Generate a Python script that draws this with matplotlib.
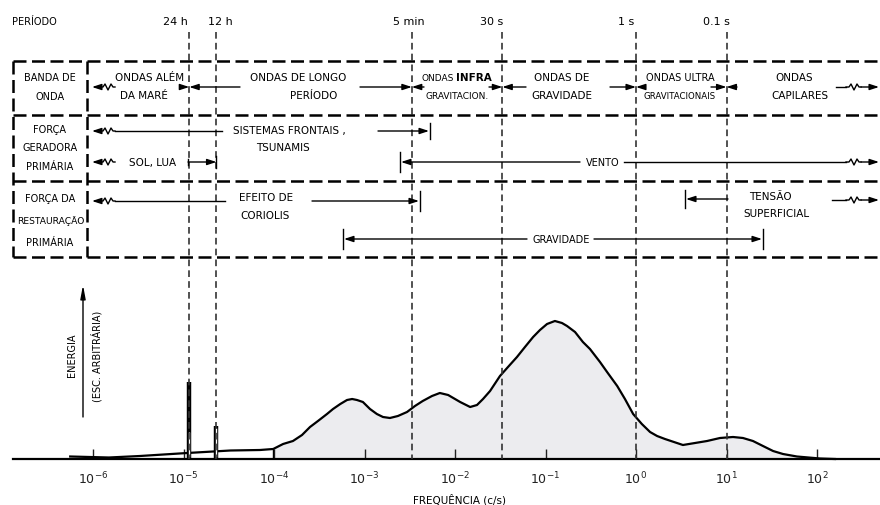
import numpy as np
import matplotlib.pyplot as plt
import matplotlib as mpl

mpl.rcParams['font.family'] = 'DejaVu Sans'

# energy spectrum (frequency in c/s, energy in arbitrary units)
freq = [5.6e-7, 1.5e-6, 3.3e-6, 1.1e-5, 3.3e-5, 7.0e-5,
        9.8e-5, 1.26e-4, 1.62e-4, 2.04e-4, 2.5e-4, 3.06e-4, 3.85e-4, 4.49e-4,
        5.4e-4, 6.41e-4, 7.3e-4, 8.26e-4, 9.6e-4, 1.15e-3, 1.37e-3, 1.6e-3,
        1.91e-3, 2.34e-3, 2.95e-3, 3.61e-3, 4.4e-3, 5.57e-3, 6.8e-3, 8.4e-3,
        1.0e-2, 1.14e-2, 1.47e-2, 1.75e-2, 2.04e-2, 2.44e-2, 3.14e-2, 3.85e-2,
        4.84e-2, 5.93e-2, 7.3e-2, 8.69e-2, 0.104, 0.127, 0.152, 0.173, 0.212,
        0.259, 0.31, 0.40, 0.479, 0.62, 0.755, 0.93, 1.16, 1.43, 1.71, 2.09,
        3.3, 4.49, 6.1, 8.47, 11.8, 15.2, 19.6, 25.3, 32.7, 42.1, 60, 108, 158]
energy = [2.5, 1.5, 3, 6, 8.5, 9,
          10, 15, 18, 24, 32, 38, 45, 50,
          55, 59, 60, 59, 57, 50, 45, 42,
          41, 43, 47, 53, 58, 63, 66, 64,
          60, 57, 52, 54, 60, 68, 83, 92,
          102, 112, 122, 129, 135, 138, 136, 133, 127,
          117, 110, 97, 87, 73, 60, 45, 35, 27, 23, 20,
          14, 16, 18, 21, 22, 21, 18, 13, 8, 5, 2.5, 0.5, 0]

# tidal lines (24 h and 12 h)
tide_freq = [1 / 86400, 1 / 43200]
tide_peak = [77, 33]
tide_box = [27, 31]

# period marks
period_labels = ['24 h', '12 h', '5 min', '30 s', '1 s', '0.1 s']
period_sec = [86400, 43200, 300, 30, 1, 0.1]
period_label_px = [175, 220, 409, 492, 626, 716]

decades = [1e-6, 1e-5, 1e-4, 1e-3, 1e-2, 1e-1, 1e0, 1e1, 1e2]


def fx(px):
    # pixel column -> frequency (10^-4 at 274 px, 90.5 px per decade)
    return 10 ** (-4 + (px - 274) / 90.5)


fig = plt.figure(figsize=(8.8, 5.06), dpi=100)
fig.patch.set_facecolor('white')

# energy axes (baseline at y=460 px)
ax_e = fig.add_axes([0, 46 / 506, 1, 200 / 506])
ax_t = fig.add_axes([0, 0, 1, 1])

for a in (ax_e, ax_t):
    a.set_xscale('log')
    a.set_xlim(fx(0), fx(880))
    a.patch.set_visible(False)

ax_e.set_ylim(0, 200)
ax_t.set_ylim(506, 0)
ax_t.axis('off')
for s in ax_e.spines.values():
    s.set_visible(False)

freq_a = np.array(freq)
energy_a = np.array(energy)
ax_e.fill_between(freq_a, 0, energy_a, where=freq_a >= freq[6], color='#ececef', lw=0, zorder=1)
ax_e.plot(freq_a, energy_a, color='k', lw=1.6, solid_joinstyle='round', zorder=3, clip_on=False)
ax_e.plot([freq[6], freq[6]], [0, energy[6]], color='k', lw=1, zorder=3)
ax_e.plot([fx(13), fx(880)], [0, 0], color='k', lw=1.6, zorder=4, clip_on=False)

for f, e, b in zip(tide_freq, tide_peak, tide_box):
    ax_e.plot([f, f], [0, e], color='k', lw=3.2, zorder=4, solid_capstyle='butt')
    ax_e.plot([f, f], [2, b], color='white', lw=1.0, zorder=5, solid_capstyle='butt')

ax_e.set_yticks([])
ax_e.set_xticks(decades)
ax_e.minorticks_off()
ax_e.tick_params(axis='x', direction='in', length=7, width=1, labelsize=9, pad=8, colors='#222222')

# period lines and labels
for lab, sec, lpx in zip(period_labels, period_sec, period_label_px):
    f = 1 / sec
    ax_t.plot([f, f], [33, 460], color='#333333', lw=1.2, ls=(0, (4, 2.5)), zorder=2)
    ax_t.text(fx(lpx), 22, lab, ha='center', va='center', fontsize=8)

ax_t.text(fx(12), 22, 'PERÍODO', ha='left', va='center', fontsize=7)

# dashed table
dash = dict(color='k', lw=1.8, ls=(0, (5.2, 2.2)))
for y in [62, 116, 182, 258]:
    ax_t.plot([fx(13), fx(880)], [y, y], **dash)
for x in [13, 87]:
    ax_t.plot([fx(x), fx(x)], [62, 258], **dash)


def arrow(f0, f1, y):
    ax_t.annotate('', xy=(f1, y), xytext=(f0, y),
                  arrowprops=dict(arrowstyle='-|>,head_length=0.55,head_width=0.18',
                                  color='k', lw=1, shrinkA=0, shrinkB=0))


def line(px0, px1, y):
    ax_t.plot([fx(px0), fx(px1)], [y, y], color='k', lw=1)


def bar(f, y, h=9):
    ax_t.plot([f, f], [y - h, y + h], color='k', lw=1)


def squiggle(px, y):
    dx = np.array([0, 3, 5, 8, 11, 13, 15])
    dy = np.array([0, 0, -3, 3, -3, 0, 0])
    ax_t.plot(fx(px + dx), y + dy, color='k', lw=1)


def wavy_left(y):
    arrow(fx(100), fx(92), y)
    squiggle(100, y)


def wavy_right(px, y):
    line(px, 846, y)
    squiggle(846, y)
    arrow(fx(861), fx(879), y)


pf = [1 / s for s in period_sec]
txt = dict(ha='center', va='center', fontsize=7.5)

# left column
for s, y in [('BANDA DE', 78), ('ONDA', 97), ('FORÇA', 130), ('GERADORA', 148),
             ('PRIMÁRIA', 167), ('FORÇA DA', 199), ('PRIMÁRIA', 243)]:
    ax_t.text(fx(50), y, s, ha='center', va='center', fontsize=7)
ax_t.text(fx(51), 221, 'RESTAURAÇÃO', ha='center', va='center', fontsize=6.6)

# row 1: wave bands
y1 = 88
wavy_left(y1)
ax_t.text(fx(150), 78, 'ONDAS ALÉM', **txt)
ax_t.text(fx(144), 96, 'DA MARÉ', **txt)
arrow(fx(181), pf[0], y1)
arrow(fx(240), pf[0], y1)
ax_t.text(fx(298), 78, 'ONDAS DE LONGO', **txt)
ax_t.text(fx(314), 96, 'PERÍODO', **txt)
arrow(fx(360), pf[2], y1)
arrow(fx(424), pf[2], y1)
ax_t.text(fx(421), 78, 'ONDAS', ha='left', va='center', fontsize=6.5)
ax_t.text(fx(456), 78, 'INFRA', ha='left', va='center', fontsize=7.5, fontweight='bold')
ax_t.text(fx(457), 96, 'GRAVITACION.', ha='center', va='center', fontsize=6.5)
arrow(fx(489), pf[3], y1)
arrow(fx(526), pf[3], y1)
ax_t.text(fx(562), 78, 'ONDAS DE', **txt)
ax_t.text(fx(562), 96, 'GRAVIDADE', **txt)
arrow(fx(610), pf[4], y1)
arrow(fx(645), pf[4], y1)
ax_t.text(fx(680), 78, 'ONDAS ULTRA', ha='center', va='center', fontsize=7)
ax_t.text(fx(680), 96, 'GRAVITACIONAIS', ha='center', va='center', fontsize=6.2)
arrow(fx(711), pf[5], y1)
arrow(fx(737), pf[5], y1)
ax_t.text(fx(794), 78, 'ONDAS', **txt)
ax_t.text(fx(800), 96, 'CAPILARES', **txt)
wavy_right(836, y1)

# row 2: generating force
wavy_left(132)
line(115, 222, 132)
ax_t.text(fx(289), 131, 'SISTEMAS FRONTAIS ,', **txt)
ax_t.text(fx(283), 148, 'TSUNAMIS', **txt)
arrow(fx(378), fx(429), 132)
bar(fx(430), 132, 8)

wavy_left(163)
ax_t.text(fx(153), 163, 'SOL, LUA', **txt)
arrow(fx(188), pf[1], 163)
bar(fx(188), 163, 3)
bar(pf[1], 163, 6)

bar(fx(400), 163, 10)
arrow(fx(580), fx(401), 163)
ax_t.text(fx(603), 163, 'VENTO', ha='center', va='center', fontsize=7)
wavy_right(624, 163)

# row 3: restoring force
wavy_left(202)
line(115, 225, 202)
ax_t.text(fx(266), 198, 'EFEITO DE', **txt)
ax_t.text(fx(265), 216, 'CORIOLIS', **txt)
arrow(fx(312), fx(419), 202)
bar(fx(420), 202, 10)

bar(fx(685), 200, 9)
arrow(fx(728), fx(686), 200)
ax_t.text(fx(770), 197, 'TENSÃO', **txt)
ax_t.text(fx(776), 214, 'SUPERFICIAL', **txt)
wavy_right(832, 201)

bar(fx(343), 240, 10)
arrow(fx(527), fx(344), 240)
ax_t.text(fx(561), 240, 'GRAVIDADE', ha='center', va='center', fontsize=7)
arrow(fx(594), fx(762), 240)
bar(fx(763), 240, 10)

# energy axis label
ax_t.annotate('', xy=(fx(83), 286), xytext=(fx(83), 418),
              arrowprops=dict(arrowstyle='-|>,head_length=0.8,head_width=0.15',
                              color='k', lw=1, shrinkA=0, shrinkB=0))
ax_t.text(fx(72), 355, 'ENERGIA', rotation=90, ha='center', va='center', fontsize=7)
ax_t.text(fx(97), 356, '(ESC. ARBITRÁRIA)', rotation=90, ha='center', va='center', fontsize=7)

ax_t.text(fx(459), 500, 'FREQUÊNCIA (c/s)', ha='center', va='center', fontsize=7.5)

plt.savefig('out.png', dpi=100, facecolor='white')
